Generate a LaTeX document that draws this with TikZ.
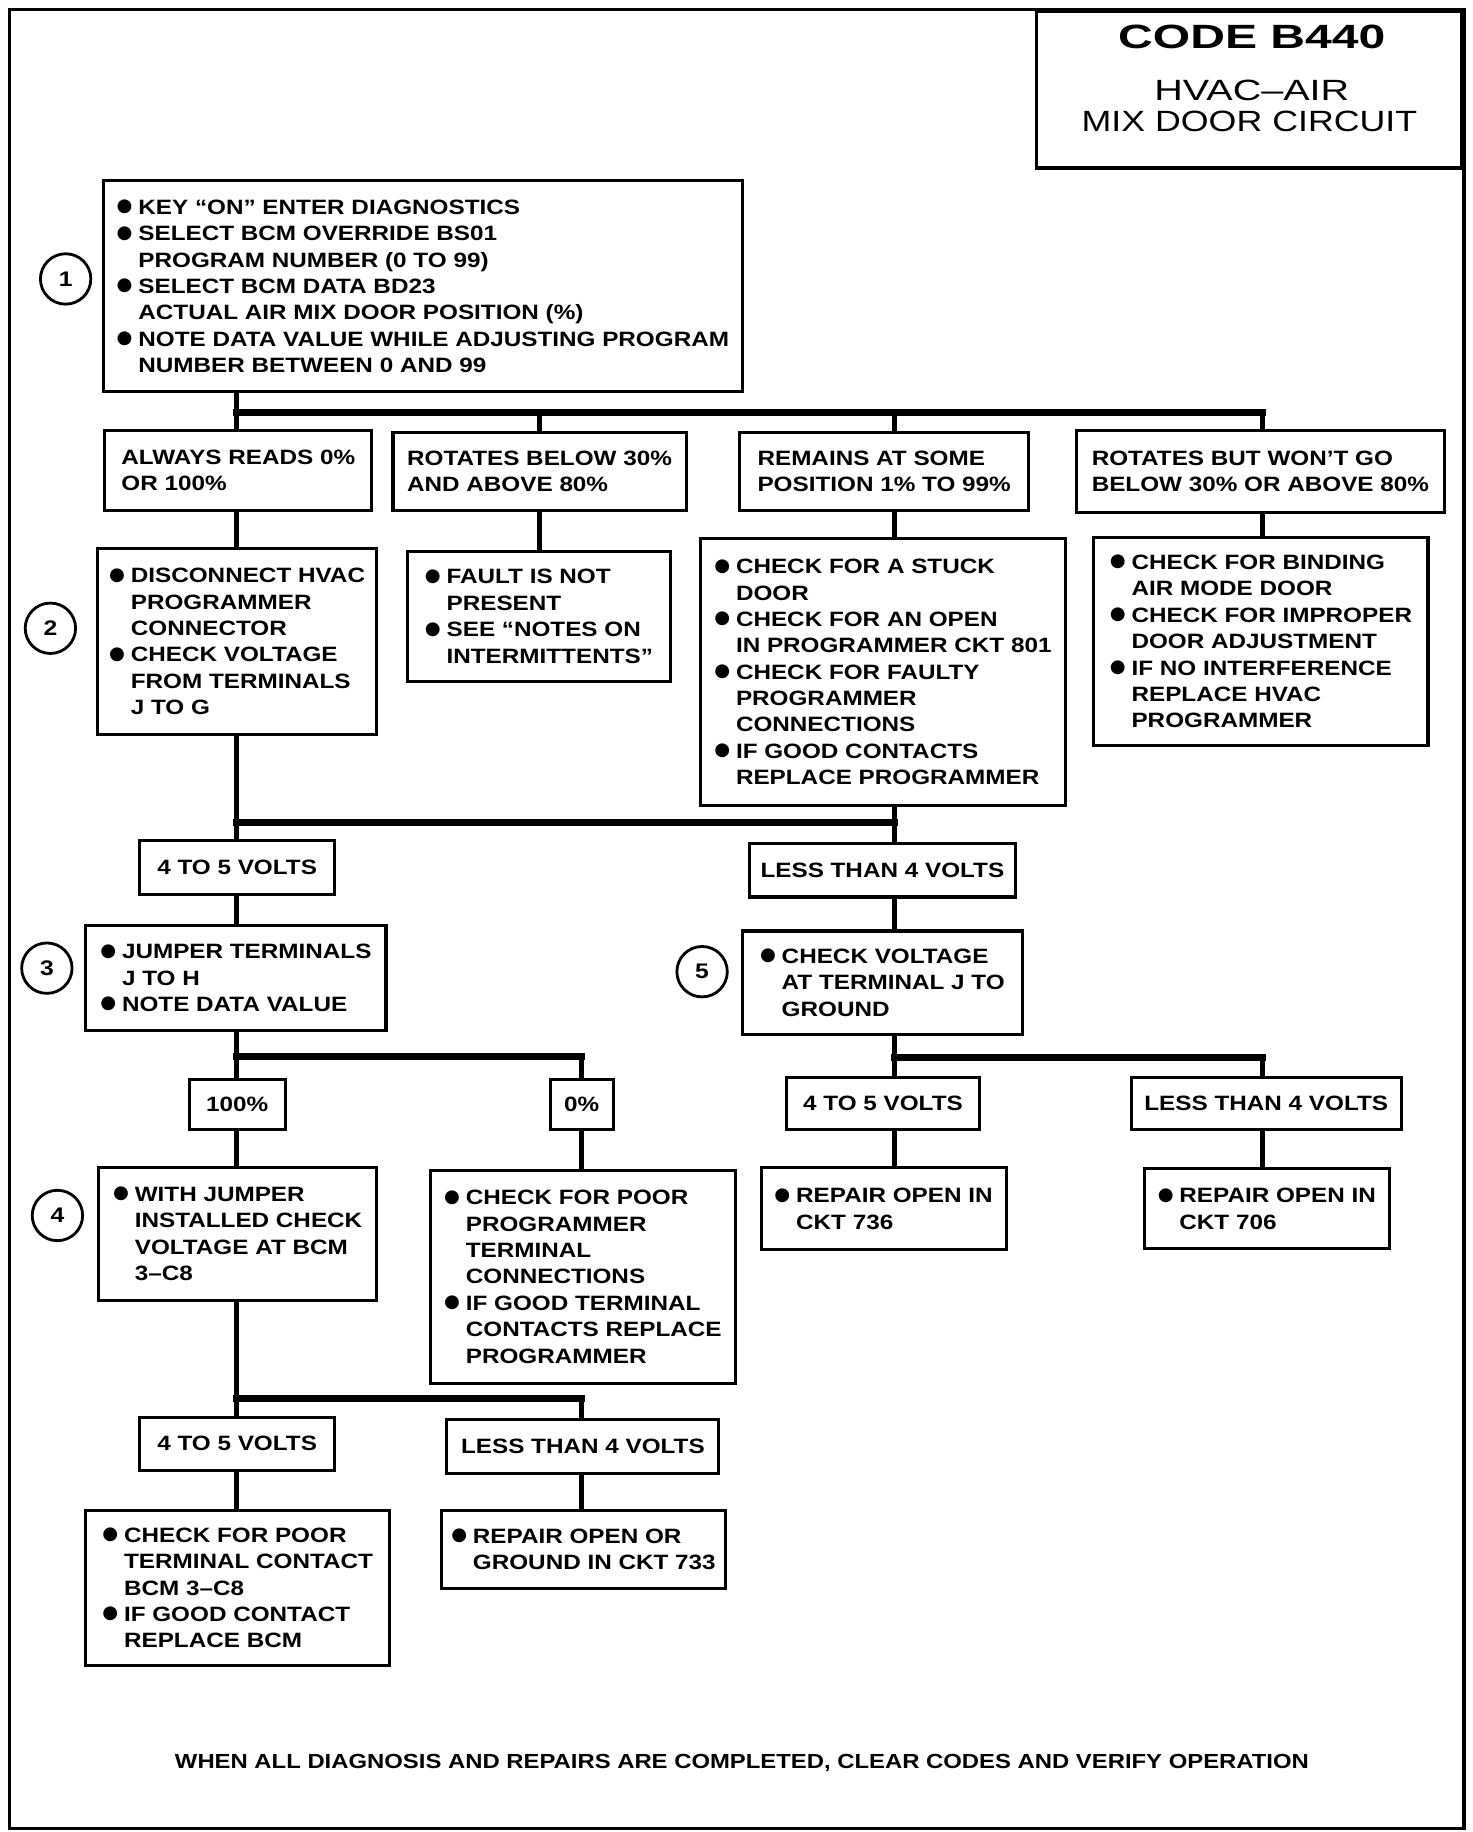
\documentclass[tikz,border=0pt]{standalone}
\usepackage{fontspec}
\setmainfont{Liberation Sans}
\newfontfamily\bodyf[FakeStretch=1.17]{Liberation Sans}
\newfontfamily\titlebf[FakeStretch=1.43]{Liberation Sans}
\newfontfamily\titleaf[FakeStretch=1.35]{Liberation Sans}
\newfontfamily\titlecf[FakeStretch=1.22]{Liberation Sans}
\newfontfamily\symf{DejaVu Sans}
\newcommand\bodyfont{\bodyf\bfseries\fontsize{17.7}{22.5}\selectfont}
\newcommand\bul{\makebox[18.5pt][l]{\raisebox{2.2pt}{\symf\fontsize{15.5}{15.5}\selectfont ●}}}
\newcommand\ind{\hspace*{18.5pt}}
\begin{document}
\begin{tikzpicture}[x=1pt,y=-1pt,
  bx/.style={draw, line width=2.6pt, inner sep=0pt, align=left, anchor=north west, font=\bodyfont},
  wh/.style 2 args={minimum width=#1pt, minimum height=#2pt},
  conn/.style={line width=4pt, line cap=rect},
  bus/.style={line width=6pt, line cap=rect},
  numc/.style={circle, draw, line width=2.4pt, minimum size=43pt, inner sep=0pt, font=\bodyf\bfseries\fontsize{18}{18}\selectfont}]
\useasboundingbox (0,0) rectangle (1256,1563);
\draw[line width=3pt] (8,8) rectangle (1249,1560);
% title
\node[draw, line width=3pt, wh={363}{134}, anchor=north east, inner sep=0pt] (tbox) at (1249,8) {};
\node[font=\titlebf\bfseries\fontsize{28.7}{30}\selectfont, anchor=base, inner sep=0pt] (tt1) at (1068,41) {CODE B440};
\node[font=\titleaf\fontsize{25}{27}\selectfont, anchor=base, inner sep=0pt] (tt2) at (1068,85.5) {HVAC–AIR};
\node[font=\titlecf\fontsize{25}{27}\selectfont, anchor=base, inner sep=0pt] (tt3) at (1066,112) {MIX DOOR CIRCUIT};
% step 1
\node[bx, wh={545}{180}] (b1) at (87,153) {\bul KEY “ON” ENTER DIAGNOSTICS\\\bul SELECT BCM OVERRIDE BS01\\\ind PROGRAM NUMBER (0 TO 99)\\\bul SELECT BCM DATA BD23\\\ind ACTUAL AIR MIX DOOR POSITION (\%)\\\bul NOTE DATA VALUE WHILE ADJUSTING PROGRAM\\\ind NUMBER BETWEEN 0 AND 99};
\node[bx, wh={228}{68}] (lA) at (88,366) {ALWAYS READS 0\%\\OR 100\%};
\node[bx, wh={250}{66}] (lB) at (334,368) {ROTATES BELOW 30\%\\AND ABOVE 80\%};
\node[bx, wh={246}{66}] (lC) at (630,368) {REMAINS AT SOME\\POSITION 1\% TO 99\%};
\node[bx, wh={314}{70}] (lD) at (917,366) {ROTATES BUT WON’T GO\\BELOW 30\% OR ABOVE 80\%};
\node[bx, wh={238}{158}] (b2) at (82,467) {\bul DISCONNECT HVAC\\\ind PROGRAMMER\\\ind CONNECTOR\\\bul CHECK VOLTAGE\\\ind FROM TERMINALS\\\ind J TO G};
\node[bx, wh={225}{111}] (bB) at (346,469) {\bul FAULT IS NOT\\\ind PRESENT\\\bul SEE “NOTES ON\\\ind INTERMITTENTS”};
\node[bx, wh={312}{228}] (bC) at (596,458) {\bul CHECK FOR A STUCK\\\ind DOOR\\\bul CHECK FOR AN OPEN\\\ind IN PROGRAMMER CKT 801\\\bul CHECK FOR FAULTY\\\ind PROGRAMMER\\\ind CONNECTIONS\\\bul IF GOOD CONTACTS\\\ind REPLACE PROGRAMMER};
\node[bx, wh={285}{178}] (bD) at (932,457) {\bul CHECK FOR BINDING\\\ind AIR MODE DOOR\\\bul CHECK FOR IMPROPER\\\ind DOOR ADJUSTMENT\\\bul IF NO INTERFERENCE\\\ind REPLACE HVAC\\\ind PROGRAMMER};
\node[bx, wh={166}{46}] (v1) at (118,716) {4 TO 5 VOLTS};
\node[bx, wh={227}{46}] (l1) at (638,718) {LESS THAN 4 VOLTS};
\node[bx, wh={256}{90}] (b3) at (72,788) {\bul JUMPER TERMINALS\\\ind J TO H\\\bul NOTE DATA VALUE};
\node[bx, wh={239}{88}] (b5) at (632,793) {\bul CHECK VOLTAGE\\\ind AT TERMINAL J TO\\\ind GROUND};
\node[bx, wh={82}{42}] (p100) at (160,920) {100\%};
\node[bx, wh={54}{42}] (p0) at (468,920) {0\%};
\node[bx, wh={164}{44}] (v2) at (670,918) {4 TO 5 VOLTS};
\node[bx, wh={230}{44}] (l2) at (964,918) {LESS THAN 4 VOLTS};
\node[bx, wh={237}{113}] (b4) at (83,995) {\bul WITH JUMPER\\\ind INSTALLED CHECK\\\ind VOLTAGE AT BCM\\\ind 3–C8};
\node[bx, wh={260}{182}] (b0) at (366,997) {\bul CHECK FOR POOR\\\ind PROGRAMMER\\\ind TERMINAL\\\ind CONNECTIONS\\\bul IF GOOD TERMINAL\\\ind CONTACTS REPLACE\\\ind PROGRAMMER};
\node[bx, wh={209}{70}] (rp1) at (648,995) {\bul REPAIR OPEN IN\\\ind CKT 736};
\node[bx, wh={209}{68}] (rp2) at (975,996) {\bul REPAIR OPEN IN\\\ind CKT 706};
\node[bx, wh={166}{45}] (v3) at (118,1208) {4 TO 5 VOLTS};
\node[bx, wh={232}{46}] (l3) at (380,1210) {LESS THAN 4 VOLTS};
\node[bx, wh={259}{133}] (f1) at (72,1287) {\bul CHECK FOR POOR\\\ind TERMINAL CONTACT\\\ind BCM 3–C8\\\bul IF GOOD CONTACT\\\ind REPLACE BCM};
\node[bx, wh={243}{67}] (f2) at (375,1287) {\bul REPAIR OPEN OR\\\ind GROUND IN CKT 733};
% step numbers
\node[numc] (n1) at (56,238) {1};
\node[numc] (n2) at (43,536) {2};
\node[numc] (n3) at (40,826) {3};
\node[numc] (n4) at (49,1037) {4};
\node[numc] (n5) at (599,829) {5};
% footer
\node[font=\bodyf\bfseries\fontsize{17.4}{20}\selectfont, anchor=base, inner sep=0pt] (foot) at (633,1509) {WHEN ALL DIAGNOSIS AND REPAIRS ARE COMPLETED, CLEAR CODES AND VERIFY OPERATION};
% columns and bus rows
\coordinate (cA) at (202,0);
\coordinate (cB) at (460,0);
\coordinate (cC) at (763,0);
\coordinate (cD) at (1077,0);
\coordinate (cE) at (496,0);
\coordinate (y1) at (0,352);
\coordinate (y2) at (0,702);
\coordinate (y3) at (0,901);
\coordinate (y4) at (0,902);
\coordinate (y5) at (0,1193);
% connectors
\draw[conn] (b1.south -| cA) -- (lA.north -| cA);
\draw[bus] (y1 -| cA) -- (y1 -| cD);
\foreach \c/\n in {cB/lB, cC/lC, cD/lD} \draw[conn] (y1 -| \c) -- (\n.north -| \c);
\foreach \c/\a/\b in {cA/lA/b2, cB/lB/bB, cC/lC/bC, cD/lD/bD} \draw[conn] (\a.south -| \c) -- (\b.north -| \c);
\draw[conn] (b2.south -| cA) -- (v1.north -| cA);
\draw[conn] (bC.south -| cC) -- (l1.north -| cC);
\draw[bus] (y2 -| cA) -- (y2 -| cC);
\draw[conn] (v1.south -| cA) -- (b3.north -| cA);
\draw[conn] (l1.south -| cC) -- (b5.north -| cC);
\draw[conn] (b3.south -| cA) -- (p100.north -| cA);
\draw[bus] (y3 -| cA) -- (y3 -| cE);
\draw[conn] (y3 -| cE) -- (p0.north -| cE);
\draw[conn] (b5.south -| cC) -- (v2.north -| cC);
\draw[bus] (y4 -| cC) -- (y4 -| cD);
\draw[conn] (y4 -| cD) -- (l2.north -| cD);
\draw[conn] (p100.south -| cA) -- (b4.north -| cA);
\draw[conn] (p0.south -| cE) -- (b0.north -| cE);
\draw[conn] (v2.south -| cC) -- (rp1.north -| cC);
\draw[conn] (l2.south -| cD) -- (rp2.north -| cD);
\draw[conn] (b4.south -| cA) -- (v3.north -| cA);
\draw[bus] (y5 -| cA) -- (y5 -| cE);
\draw[conn] (y5 -| cE) -- (l3.north -| cE);
\draw[conn] (v3.south -| cA) -- (f1.north -| cA);
\draw[conn] (l3.south -| cE) -- (f2.north -| cE);
\end{tikzpicture}
\end{document}
